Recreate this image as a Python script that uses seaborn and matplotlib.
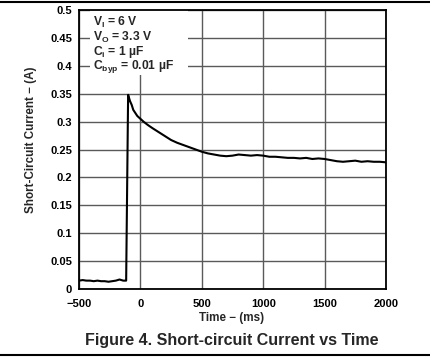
import matplotlib
matplotlib.use("Agg")
import matplotlib.pyplot as plt
from matplotlib.lines import Line2D
from matplotlib.patches import Rectangle
import seaborn as sns
import pandas as pd

# ---- data ----
time_ms = [-500, -470, -440, -410, -380, -350, -320, -290, -260, -230, -200,
           -170, -140, -116, -100, -85, -71, -58, -25, 0, 25, 60, 100, 150,
           200, 250, 300, 350, 400, 450, 500, 550, 600, 650, 700, 750, 800,
           850, 900, 950, 1000, 1050, 1100, 1150, 1200, 1250, 1300, 1350,
           1400, 1450, 1500, 1550, 1600, 1650, 1700, 1750, 1800, 1850, 1900,
           1950, 2000]
current_a = [0.015, 0.016, 0.015, 0.015, 0.014, 0.015, 0.014, 0.014, 0.013,
             0.014, 0.015, 0.017, 0.015, 0.015, 0.348, 0.337, 0.330, 0.321,
             0.310, 0.305, 0.300, 0.294, 0.288, 0.281, 0.274, 0.267, 0.262,
             0.258, 0.254, 0.250, 0.246, 0.243, 0.241, 0.239, 0.238, 0.239,
             0.241, 0.240, 0.239, 0.240, 0.239, 0.237, 0.237, 0.236, 0.235,
             0.235, 0.234, 0.235, 0.233, 0.234, 0.233, 0.231, 0.229, 0.228,
             0.229, 0.230, 0.228, 0.229, 0.228, 0.228, 0.227]
x_ticks = [-500, 0, 500, 1000, 1500, 2000]
y_ticks = [0, 0.05, 0.1, 0.15, 0.2, 0.25, 0.3, 0.35, 0.4, 0.45, 0.5]
y_tick_labels = ["0", "0.05", "0.1", "0.15", "0.2", "0.25", "0.3", "0.35",
                 "0.4", "0.45", "0.5"]
conditions = ["V$_{I}$ = 6 V", "V$_{O}$ = 3.3 V", "C$_{i}$ = 1 µF",
              "C$_{byp}$ = 0.01 µF"]
title = "Figure 4. Short-circuit Current vs Time"
x_label = "Time − (ms)"
y_label = "Short-Circuit Current − (A)"

sns.set_style("white")
plt.rcParams["font.family"] = ["Liberation Sans", "DejaVu Sans"]
plt.rcParams["font.weight"] = "bold"
plt.rcParams["mathtext.fontset"] = "custom"
plt.rcParams["mathtext.rm"] = "Liberation Sans:bold"
plt.rcParams["mathtext.bf"] = "Liberation Sans:bold"
plt.rcParams["mathtext.it"] = "Liberation Sans:bold"
plt.rcParams["mathtext.default"] = "bf"

df = pd.DataFrame({"t": time_ms, "i": current_a})

fig = plt.figure(figsize=(4.30, 3.57), dpi=100)
ax = fig.add_axes([79 / 430, 68 / 357, 307 / 430, 279 / 357])

sns.lineplot(data=df, x="t", y="i", ax=ax, color="black", linewidth=1.5,
             zorder=5)

ax.set_xlim(-500, 2000)
ax.set_ylim(0, 0.5)
ax.set_xticks(x_ticks)
ax.set_xticklabels([str(v) if v >= 0 else "−" + str(-v) for v in x_ticks])
ax.set_yticks(y_ticks)
ax.set_yticklabels(y_tick_labels)
ax.grid(True, color="#5a5a5a", linewidth=1.0)
ax.set_axisbelow(True)
for s in ax.spines.values():
    s.set_color("black")
    s.set_linewidth(1.3)
ax.tick_params(axis="both", length=0, labelsize=8, colors="black")
ax.tick_params(axis="y", pad=5)
ax.tick_params(axis="x", pad=7)
for lbl in ax.get_xticklabels() + ax.get_yticklabels():
    lbl.set_fontweight("bold")

ax.set_xlabel(x_label, fontsize=8.4, fontweight="bold")
ax.set_ylabel(y_label, fontsize=8.4, fontweight="bold")
ax.xaxis.set_label_coords(232 / 430, 1 - 318 / 357, transform=fig.transFigure)
ax.yaxis.set_label_coords(31 / 430, 1 - 140 / 357, transform=fig.transFigure)
ax.xaxis.label.set_va("center")
ax.yaxis.label.set_va("center")

# white box behind the condition text
ax.add_patch(Rectangle((0.036, 0.767), 0.32, 0.233, transform=ax.transAxes,
                       facecolor="white", edgecolor="none", zorder=2))
for k, txt in enumerate(conditions):
    y_px = 22 + 15 * k
    ax.text(93 / 430, 1 - y_px / 357, txt, transform=fig.transFigure,
            fontsize=8.7, fontweight="bold", va="center", ha="left", zorder=6)

fig.text(232 / 430, 1 - 340 / 357, title, fontsize=11.5, fontweight="bold",
         ha="center", va="center")

fig.add_artist(Line2D([0, 1], [1 - 2 / 357, 1 - 2 / 357],
                      transform=fig.transFigure, color="black", linewidth=1.5))
fig.add_artist(Line2D([0, 1], [1 - 355 / 357, 1 - 355 / 357],
                      transform=fig.transFigure, color="black", linewidth=1.5))

fig.savefig("out.png", dpi=100, facecolor="white")
